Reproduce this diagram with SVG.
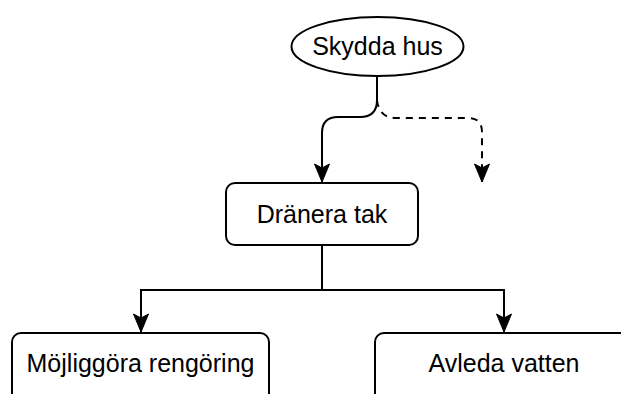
<svg xmlns="http://www.w3.org/2000/svg" width="621" height="394" viewBox="0 0 621 394">
<defs>
<marker id="arr" markerUnits="userSpaceOnUse" markerWidth="22" markerHeight="18" refX="20" refY="9" orient="auto" viewBox="0 0 22 18">
<path d="M2,1.5 L6,9 L2,16.5 L20,9 Z" fill="#000" stroke="#000" stroke-width="1"/>
</marker>
</defs>
<style>
.node{fill:#fff;stroke:#000;stroke-width:2}
.lbl{font-family:"Liberation Sans",Arial,sans-serif;font-size:25px;fill:#000;text-anchor:middle}
.edge{fill:none;stroke:#000;stroke-width:2}
.dash{stroke-dasharray:7,6}
</style>
<g id="connectors">
<path class="edge" d="M377,76 V100 Q377,117 360,117 H338 Q322,117 322,133 V182" marker-end="url(#arr)"/>
<path class="edge dash" d="M377,100 Q379,118 396,118 H468 Q482,118 482,132 V182" marker-end="url(#arr)"/>
<path class="edge" d="M322,245 V290 H141 V332" marker-end="url(#arr)"/>
<path class="edge" d="M322,290 H504 V332" marker-end="url(#arr)"/>
</g>
<g id="skydda">
<ellipse class="node" cx="377.5" cy="46.5" rx="86" ry="29.5"/>
<text class="lbl" x="377.5" y="55">Skydda hus</text>
</g>
<g id="dranera">
<rect class="node" x="226" y="183" width="192" height="62" rx="9"/>
<text class="lbl" x="322" y="223">Dränera tak</text>
</g>
<g id="mojliggora">
<rect class="node" x="12" y="333" width="257" height="75" rx="9"/>
<text class="lbl" x="140.5" y="372">Möjliggöra rengöring</text>
</g>
<g id="avleda">
<rect class="node" x="375" y="333" width="262" height="75" rx="9"/>
<text class="lbl" x="504" y="372">Avleda vatten</text>
</g>
</svg>
